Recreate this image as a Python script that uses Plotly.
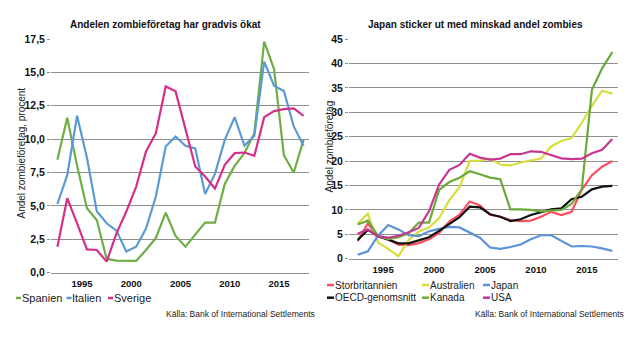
import plotly.graph_objects as go

# ---------------- data ----------------
years = list(range(1992, 2018))  # annual observations, plotted at mid-year

# Left chart: share of zombie firms (%)
spanien = [8.45, 11.6, 8.0, 4.83, 3.95, 1.03, 0.9, 0.88, 0.88, 1.7, 2.6, 4.5, 2.75,
           1.95, 2.85, 3.75, 3.75, 6.65, 8.0, 8.95, 10.45, 17.3, 15.25, 8.8, 7.5, 9.95]
italien = [5.15, 7.3, 11.75, 8.6, 4.6, 3.7, 3.15, 1.58, 1.95, 3.3, 5.7, 9.45, 10.2,
           9.5, 9.3, 5.9, 7.4, 9.95, 11.65, 9.5, 10.25, 15.8, 14.0, 13.6, 10.95, 9.5]
sverige = [1.95, 5.58, 3.7, 1.75, 1.7, 0.83, 2.95, 4.58, 6.45, 9.08, 10.45, 13.95, 13.58,
           10.7, 7.95, 7.2, 6.3, 8.08, 8.95, 9.0, 8.75, 11.65, 12.1, 12.25, 12.3, 11.75]

# Right chart
storbritannien = [3.6, 7.2, 4.5, 4.0, 2.9, 2.8, 3.2, 4.0, 5.3, 7.6, 9.0, 11.7, 10.9,
                  9.0, 8.6, 7.9, 7.7, 7.8, 8.6, 9.6, 8.95, 9.6, 14.1, 17.1, 18.85, 20.0]
australien = [7.2, 9.2, 3.3, 2.0, 0.5, 3.8, 5.6, 6.4, 8.3, 12.0, 14.65, 20.0, 20.1,
              20.5, 19.3, 19.1, 19.7, 20.1, 20.5, 23.0, 24.1, 24.7, 27.8, 31.3, 34.4, 33.8]
japan = [0.8, 1.5, 4.7, 6.9, 6.0, 4.8, 4.6, 5.6, 6.1, 6.5, 6.4, 5.4, 4.3,
         2.3, 2.0, 2.4, 2.9, 4.0, 4.8, 4.8, 3.6, 2.5, 2.6, 2.5, 2.1, 1.6]
oecd = [3.83, 5.9, 4.65, 3.97, 3.15, 3.15, 3.8, 4.4, 5.7, 7.1, 8.5, 10.65, 10.5,
        9.1, 8.6, 7.7, 8.07, 8.95, 9.6, 10.1, 10.3, 12.2, 12.7, 14.2, 14.75, 14.9]
kanada = [7.0, 7.8, 4.7, 4.0, 4.4, 5.2, 7.4, 7.4, 14.1, 15.7, 16.6, 17.9, 17.3,
          16.6, 16.3, 10.1, 10.1, 10.0, 9.7, 9.85, 10.0, 11.2, 14.2, 34.6, 39.0, 42.3]
usa = [5.1, 6.0, 4.6, 4.3, 4.7, 5.4, 6.3, 9.7, 15.2, 18.2, 19.2, 21.5, 20.7,
       20.3, 20.5, 21.4, 21.4, 22.0, 21.9, 21.2, 20.55, 20.4, 20.5, 21.6, 22.3, 24.5]

x_ticks = [1995, 2000, 2005, 2010, 2015]
x_ticktext = ["1995", "2000", "2005", "2010", "2015"]

left_title = "Andelen zombieföretag har gradvis ökat"
right_title = "Japan sticker ut med minskad andel zombies"
left_ytitle = "Andel zombieföretag, procent"
right_ytitle = "Andel zombieföretag"
source = "Källa: Bank of International Settlements"

left_series = [("Spanien", spanien, "#70AD47"),
               ("Italien", italien, "#5B9BD5"),
               ("Sverige", sverige, "#D4308A")]
right_series = [("Storbritannien", storbritannien, "#FF4D5E"),
                ("Australien", australien, "#D6DD3C"),
                ("Japan", japan, "#5B92D8"),
                ("OECD-genomsnitt", oecd, "#111111"),
                ("Kanada", kanada, "#6BAA3A"),
                ("USA", usa, "#C83592")]

# ---------------- layout helpers ----------------
W, H = 641, 337
FONT = "Liberation Sans, Arial, sans-serif"
GRID = "#8f8f8f"


def X(px):
    return px / W


def Y(py):
    return 1 - py / H


xmid = [y + 0.5 for y in years]

fig = go.Figure()
for name, vals, col in left_series:
    fig.add_trace(go.Scatter(x=xmid, y=vals, mode="lines", name=name,
                             line=dict(color=col, width=2.2), xaxis="x", yaxis="y",
                             showlegend=False))
for name, vals, col in right_series:
    fig.add_trace(go.Scatter(x=xmid, y=vals, mode="lines", name=name,
                             line=dict(color=col, width=2.2), xaxis="x2", yaxis="y2",
                             showlegend=False))

xcommon = dict(tickvals=x_ticks, ticktext=x_ticktext, showgrid=False, zeroline=False,
               showline=True, linecolor=GRID, linewidth=1, ticks="", automargin=False,
               ticklabelstandoff=2,
               tickfont=dict(family=FONT, size=9.5, color="#111", weight="bold"))
ycommon = dict(showgrid=True, gridcolor=GRID, gridwidth=1, zeroline=False, showline=False,
               ticks="outside", ticklen=3, tickcolor=GRID, automargin=False,
               tickfont=dict(family=FONT, size=10.5, color="#111", weight="bold"))

fig.update_layout(
    template="none",
    width=W, height=H, margin=dict(l=0, r=0, t=0, b=0, pad=0, autoexpand=False),
    paper_bgcolor="white", plot_bgcolor="white", separators=", ",
    xaxis=dict(domain=[X(51), X(308.5)], range=[1991.85, 2018.0], anchor="y", **xcommon),
    yaxis=dict(domain=[Y(272.7), Y(39)], range=[0, 17.5], dtick=2.5, tick0=0,
               tickformat=".1f", anchor="x", **ycommon),
    xaxis2=dict(domain=[X(349), X(617.7)], range=[1991.65, 2018.03], anchor="y2", **xcommon),
    yaxis2=dict(domain=[Y(258.7), Y(39)], range=[0, 45], dtick=5, tick0=0,
                anchor="x2", **ycommon),
)

ann = []
shapes = []


def text(t, px, py, size, xanchor="center", angle=0, bold=False, color="#222"):
    f = dict(family=FONT, size=size, color=color)
    if bold:
        f["weight"] = "bold"
    ann.append(dict(text=t, x=X(px), y=Y(py), xref="paper", yref="paper",
                    xanchor=xanchor, yanchor="middle", textangle=angle,
                    showarrow=False, font=f, borderpad=0))


# titles
text(left_title, 165.8, 24, 10, bold=True, color="#111")
text(right_title, 475.2, 24, 10, bold=True, color="#111")
# axis titles
text(left_ytitle, 20.5, 153, 10, angle=-90)
text(right_ytitle, 328.5, 146, 10, angle=-90)
# sources
for xr in (315.7, 625.3):
    text(source, xr, 314.3, 8.5, xanchor="right")

# legends (swatch + label)
left_leg_pos = [(16, 298), (66.5, 298), (108, 298)]
right_leg_pos = [(327, 285), (422, 285), (483, 285),
                 (327, 297.7), (422, 297.7), (483, 297.7)]
for (name, _, col), (lx, ly) in zip(left_series, left_leg_pos):
    shapes.append(dict(type="line", xref="paper", yref="paper", x0=X(lx), x1=X(lx + 5),
                       y0=Y(ly), y1=Y(ly), line=dict(color=col, width=2.5)))
    text(name, lx + 4.5, ly, 11, xanchor="left")
for (name, _, col), (lx, ly) in zip(right_series, right_leg_pos):
    shapes.append(dict(type="line", xref="paper", yref="paper", x0=X(lx), x1=X(lx + 7),
                       y0=Y(ly), y1=Y(ly), line=dict(color=col, width=2.5)))
    text(name, lx + 7, ly, 10, xanchor="left")

fig.update_layout(annotations=ann, shapes=shapes)
fig.write_html("out.html")
